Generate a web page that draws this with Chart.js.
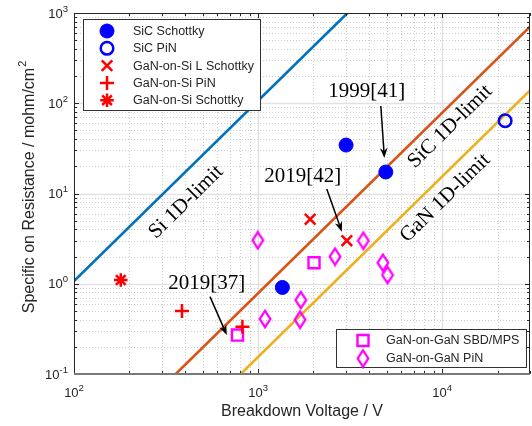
<!DOCTYPE html>
<html>
<head>
<meta charset="utf-8">
<script src="https://cdn.jsdelivr.net/npm/chart.js@4.4.1/dist/chart.umd.min.js"></script>
<style>
    html, body { margin: 0; padding: 0; background: #fff; }
    #contenedor { width: 532px; height: 426px; position: relative; }
</style>
</head>
<body>
<div id="contenedor"><canvas id="grafica_ron"></canvas></div>
<script>
// Valores: voltaje de ruptura (V) y resistencia (mohm/cm2)
var sicSchottkyV = [1355, 3006, 4942];
var sicSchottkyR = [0.91, 34.4, 17.3];
var sicPinV = [21980];
var sicPinR = [64];
var ganSiLSchottkyV = [1918, 3034];
var ganSiLSchottkyR = [5.18, 3.0];
var ganSiPinV = [386, 822];
var ganSiPinR = [0.50, 0.334];
var ganSiSchottkyV = [179.5];
var ganSiSchottkyR = [1.10];
var ganGanSbdV = [773, 2013];
var ganGanSbdR = [0.27, 1.71];
var ganGanPinV = [996, 1091, 1706, 1690, 2618, 3730, 4765, 5050];
var ganGanPinR = [3.03, 0.407, 0.66, 0.40, 2.0, 3.0, 1.71, 1.25];

// Límites 1D (extremos de cada recta)
var siLimitV = [100, 3060];
var siLimitR = [1.07, 1000];
var sicLimitV = [357, 30000];
var sicLimitR = [0.1, 705];
var ganLimitV = [805, 30000];
var ganLimitR = [0.1, 139];

// Etiquetas de los ejes (exponentes de 10)
var xTickExps = [2, 3, 4];
var yTickExps = [-1, 0, 1, 2, 3];
var xTitle = 'Breakdown Voltage / V';
var yTitle = 'Specific on Resistance / mohm/cm';
var yTitleSup = '2';

var SANS = "'Liberation Sans', Arial, sans-serif";
var SERIF = "'Liberation Serif', 'Times New Roman', serif";
var INK = '#262626';

// Anotaciones en coordenadas de datos
var notas = [
    { texto: '1999[41]', v: 3898, r: 134 },
    { texto: '2019[42]', v: 1750, r: 15.3 },
    { texto: '2019[37]', v: 526, r: 1.01 }
];
var flechas = [
    { v1: 4643, r1: 93.3, v2: 4853, r2: 24.7 },
    { v1: 2361, r1: 11.2, v2: 2851, r2: 3.78 },
    { v1: 548, r1: 0.72, v2: 676, r2: 0.27 }
];
var notasLimite = [
    { texto: 'Si 1D-limit', v: 406, r: 8.05 },
    { texto: 'SiC 1D-limit', v: 11040, r: 55.2 },
    { texto: 'GaN 1D-limit', v: 10380, r: 8.9 }
];

// Rombo alargado estilo MATLAB
function crearRombo() {
    var c = document.createElement('canvas');
    c.width = 14;
    c.height = 20;
    var g = c.getContext('2d');
    g.strokeStyle = '#ff00ff';
    g.lineWidth = 2.3;
    g.beginPath();
    g.moveTo(7, 1.8);
    g.lineTo(12.3, 10);
    g.lineTo(7, 18.2);
    g.lineTo(1.7, 10);
    g.closePath();
    g.stroke();
    return c;
}

function puntos(xs, ys) {
    var out = [];
    for (var i = 0; i < xs.length; i++) {
        out.push({ x: xs[i], y: ys[i] });
    }
    return out;
}

function serieMarcador(label, xs, ys, estilo) {
    var ds = {
        label: label,
        data: puntos(xs, ys),
        showLine: false,
        order: 0
    };
    for (var k in estilo) ds[k] = estilo[k];
    ds.pointHoverRadius = ds.pointRadius;
    return ds;
}

function serieLimite(xs, ys, color) {
    return {
        label: '',
        data: puntos(xs, ys),
        showLine: true,
        pointRadius: 0,
        borderColor: color,
        borderWidth: 2.6,
        fill: false,
        order: 10
    };
}

var datasets = [
    serieMarcador('SiC Schottky', sicSchottkyV, sicSchottkyR,
        { pointStyle: 'circle', pointRadius: 7, backgroundColor: '#0000ff', borderColor: '#0000ff', borderWidth: 1 }),
    serieMarcador('SiC PiN', sicPinV, sicPinR,
        { pointStyle: 'circle', pointRadius: 6.3, backgroundColor: 'rgba(0,0,0,0)', borderColor: '#0000ff', borderWidth: 2.5 }),
    serieMarcador('GaN-on-Si L Schottky', ganSiLSchottkyV, ganSiLSchottkyR,
        { pointStyle: 'crossRot', pointRadius: 7.5, backgroundColor: 'rgba(0,0,0,0)', borderColor: '#ff0000', borderWidth: 2.5 }),
    serieMarcador('GaN-on-Si PiN', ganSiPinV, ganSiPinR,
        { pointStyle: 'cross', pointRadius: 7, backgroundColor: 'rgba(0,0,0,0)', borderColor: '#ff0000', borderWidth: 2.5 }),
    serieMarcador('GaN-on-Si Schottky', ganSiSchottkyV, ganSiSchottkyR,
        { pointStyle: 'star', pointRadius: 6.8, backgroundColor: 'rgba(0,0,0,0)', borderColor: '#ff0000', borderWidth: 2.5 }),
    serieMarcador('GaN-on-GaN SBD/MPS', ganGanSbdV, ganGanSbdR,
        { pointStyle: 'rect', pointRadius: 7.8, backgroundColor: 'rgba(0,0,0,0)', borderColor: '#ff00ff', borderWidth: 2.4 }),
    serieMarcador('GaN-on-GaN PiN', ganGanPinV, ganGanPinR,
        { pointStyle: crearRombo(), pointRadius: 8, backgroundColor: 'rgba(0,0,0,0)', borderColor: '#ff00ff', borderWidth: 2.2 }),
    serieLimite(siLimitV, siLimitR, '#0072bd'),
    serieLimite(sicLimitV, sicLimitR, '#d95319'),
    serieLimite(ganLimitV, ganLimitR, '#edb120')
];

var leyendas = [
    { dx: 9, dy: 6, w: 177, h: 91, first: 12, step: 17.3, marker: 24, text: 50, series: [0, 1, 2, 3, 4], abajo: false },
    { dx: -194, dy: -45, w: 190, h: 38, first: 11.5, step: 18, marker: 27, text: 50, series: [5, 6], abajo: true }
];

// Valores 1..9 x 10^n dentro del rango del eje
function valoresRejilla(scale) {
    var vals = [];
    var e0 = Math.floor(Math.log10(scale.min));
    var e1 = Math.ceil(Math.log10(scale.max));
    for (var e = e0; e <= e1; e++) {
        for (var m = 1; m <= 9; m++) {
            var v = m * Math.pow(10, e);
            if (v >= scale.min * 0.999 && v <= scale.max * 1.001) {
                vals.push({ v: v, major: m === 1 });
            }
        }
    }
    return vals;
}

function linea(ctx, x1, y1, x2, y2) {
    ctx.beginPath();
    ctx.moveTo(x1, y1);
    ctx.lineTo(x2, y2);
    ctx.stroke();
}

function potencia(ctx, exp, x, y, alinear) {
    var base = '10';
    var sup = String(exp);
    ctx.font = '13px ' + SANS;
    var wb = ctx.measureText(base).width;
    ctx.font = '9.5px ' + SANS;
    var ws = ctx.measureText(sup).width;
    var left = alinear === 'right' ? x - wb - ws : x - (wb + ws) / 2;
    ctx.textAlign = 'left';
    ctx.textBaseline = 'alphabetic';
    ctx.fillStyle = INK;
    ctx.font = '13px ' + SANS;
    ctx.fillText(base, left, y);
    ctx.font = '9.5px ' + SANS;
    ctx.fillText(sup, left + wb, y - 6);
}

function flecha(ctx, x1, y1, x2, y2) {
    var ang = Math.atan2(y2 - y1, x2 - x1);
    var len = 10, half = 3.8;
    var c = Math.cos(ang), s = Math.sin(ang);
    ctx.strokeStyle = '#000';
    ctx.lineWidth = 1.5;
    linea(ctx, x1, y1, x2 - c * len * 0.7, y2 - s * len * 0.7);
    ctx.fillStyle = '#000';
    ctx.beginPath();
    ctx.moveTo(x2, y2);
    ctx.lineTo(x2 - c * len + s * half, y2 - s * len - c * half);
    ctx.lineTo(x2 - c * len * 0.7, y2 - s * len * 0.7);
    ctx.lineTo(x2 - c * len - s * half, y2 - s * len + c * half);
    ctx.closePath();
    ctx.fill();
}

var rejillaPlugin = {
    id: 'rejilla',
    beforeDatasetsDraw: function (chart) {
        var ctx = chart.ctx, a = chart.chartArea;
        var sx = chart.scales.x, sy = chart.scales.y;
        ctx.save();
        function estilo(major) {
            ctx.setLineDash(major ? [] : [1, 2]);
            ctx.strokeStyle = major ? '#e2e2e2' : '#cdcdcd';
            ctx.lineWidth = major ? 1.5 : 1;
        }
        valoresRejilla(sx).forEach(function (t) {
            var px = Math.round(sx.getPixelForValue(t.v)) + 0.5;
            if (px <= a.left + 1 || px >= a.right - 1) return;
            estilo(t.major);
            linea(ctx, px, a.top, px, a.bottom);
        });
        valoresRejilla(sy).forEach(function (t) {
            var py = Math.round(sy.getPixelForValue(t.v)) + 0.5;
            if (py <= a.top + 1 || py >= a.bottom - 1) return;
            estilo(t.major);
            linea(ctx, a.left, py, a.right, py);
        });
        ctx.restore();
    },
    afterDatasetsDraw: function (chart) {
        var ctx = chart.ctx, a = chart.chartArea;
        var sx = chart.scales.x, sy = chart.scales.y;
        ctx.save();
        ctx.setLineDash([]);

        // Etiquetas de los límites, paralelas a las rectas
        var p1x = sx.getPixelForValue(sicLimitV[0]), p1y = sy.getPixelForValue(sicLimitR[0]);
        var p2x = sx.getPixelForValue(sicLimitV[1]), p2y = sy.getPixelForValue(sicLimitR[1]);
        var ang = Math.atan2(p2y - p1y, p2x - p1x);
        ctx.fillStyle = '#000';
        ctx.font = '21px ' + SERIF;
        ctx.textAlign = 'center';
        ctx.textBaseline = 'middle';
        notasLimite.forEach(function (n) {
            ctx.save();
            ctx.translate(sx.getPixelForValue(n.v), sy.getPixelForValue(n.r));
            ctx.rotate(ang);
            ctx.fillText(n.texto, 0, 0);
            ctx.restore();
        });
        notas.forEach(function (n) {
            ctx.fillText(n.texto, sx.getPixelForValue(n.v), sy.getPixelForValue(n.r));
        });
        flechas.forEach(function (f) {
            flecha(ctx, sx.getPixelForValue(f.v1), sy.getPixelForValue(f.r1),
                sx.getPixelForValue(f.v2), sy.getPixelForValue(f.r2));
        });

        // Marco y marcas interiores
        ctx.strokeStyle = INK;
        ctx.lineWidth = 1;
        valoresRejilla(sx).forEach(function (t) {
            var px = Math.round(sx.getPixelForValue(t.v)) + 0.5;
            var l = t.major ? 5 : 3;
            linea(ctx, px, a.bottom, px, a.bottom - l);
            linea(ctx, px, a.top, px, a.top + l);
        });
        valoresRejilla(sy).forEach(function (t) {
            var py = Math.round(sy.getPixelForValue(t.v)) + 0.5;
            var l = t.major ? 5 : 3;
            linea(ctx, a.left, py, a.left + l, py);
            linea(ctx, a.right, py, a.right - l, py);
        });
        linea(ctx, a.left + 0.5, a.top, a.left + 0.5, a.bottom);
        linea(ctx, a.left, a.top + 0.5, a.right, a.top + 0.5);
        linea(ctx, a.right - 0.5, a.top, a.right - 0.5, a.bottom);
        ctx.strokeStyle = '#7a7a7a';
        ctx.lineWidth = 2;
        linea(ctx, a.left, a.bottom, a.right, a.bottom);
        ctx.restore();
    },
    afterDraw: function (chart) {
        var ctx = chart.ctx, a = chart.chartArea;
        var sx = chart.scales.x, sy = chart.scales.y;
        ctx.save();

        // Etiquetas de las marcas
        xTickExps.forEach(function (e) {
            potencia(ctx, e, sx.getPixelForValue(Math.pow(10, e)), a.bottom + 23, 'center');
        });
        yTickExps.forEach(function (e) {
            potencia(ctx, e, a.left - 6, sy.getPixelForValue(Math.pow(10, e)) + 4.5, 'right');
        });

        // Títulos de los ejes
        ctx.fillStyle = INK;
        ctx.font = '16px ' + SANS;
        ctx.textAlign = 'center';
        ctx.textBaseline = 'alphabetic';
        ctx.fillText(xTitle, (a.left + a.right) / 2, a.bottom + 42);

        ctx.save();
        ctx.translate(a.left - 40, (a.top + a.bottom) / 2 - 6);
        ctx.rotate(-Math.PI / 2);
        ctx.textAlign = 'left';
        ctx.font = '16px ' + SANS;
        var wt = ctx.measureText(yTitle).width;
        ctx.font = '11px ' + SANS;
        var wsup = ctx.measureText(yTitleSup).width;
        var x0 = -(wt + wsup) / 2;
        ctx.font = '16px ' + SANS;
        ctx.fillText(yTitle, x0, 0);
        ctx.font = '11px ' + SANS;
        ctx.fillText(yTitleSup, x0 + wt + 1, -8);
        ctx.restore();

        // Leyendas
        leyendas.forEach(function (ley) {
            var bx = ley.abajo ? a.right + ley.dx : a.left + ley.dx;
            var by = ley.abajo ? a.bottom + ley.dy : a.top + ley.dy;
            ctx.fillStyle = '#fff';
            ctx.fillRect(bx, by, ley.w, ley.h);
            ctx.strokeStyle = '#333';
            ctx.lineWidth = 1;
            ctx.strokeRect(bx + 0.5, by + 0.5, ley.w, ley.h);
            ley.series.forEach(function (idx, i) {
                var ds = chart.data.datasets[idx];
                var y = by + ley.first + i * ley.step;
                ctx.fillStyle = ds.backgroundColor;
                ctx.strokeStyle = ds.borderColor;
                ctx.lineWidth = ds.borderWidth;
                Chart.helpers.drawPoint(ctx, {
                    pointStyle: ds.pointStyle,
                    radius: ds.pointRadius,
                    rotation: 0,
                    borderWidth: ds.borderWidth
                }, bx + ley.marker, y);
                ctx.fillStyle = INK;
                ctx.font = '12.5px ' + SANS;
                ctx.textAlign = 'left';
                ctx.textBaseline = 'middle';
                ctx.fillText(ds.label, bx + ley.text, y + 0.5);
            });
        });
        ctx.restore();
    }
};

var chart = new Chart($id('grafica_ron'), {
    type: 'scatter',
    data: { datasets: datasets },
    options: {
        responsive: true,
        maintainAspectRatio: false,
        animation: false,
        layout: { autoPadding: false, padding: { left: 74, top: 13, right: 2, bottom: 52 } },
        plugins: {
            legend: { display: false },
            tooltip: { enabled: false }
        },
        scales: {
            x: { type: 'logarithmic', min: 100, max: 30000, display: false },
            y: { type: 'logarithmic', min: 0.1, max: 1000, display: false }
        }
    },
    plugins: [rejillaPlugin]
});

function $id(id) {
    return document.getElementById(id);
}
</script>
</body>
</html>
